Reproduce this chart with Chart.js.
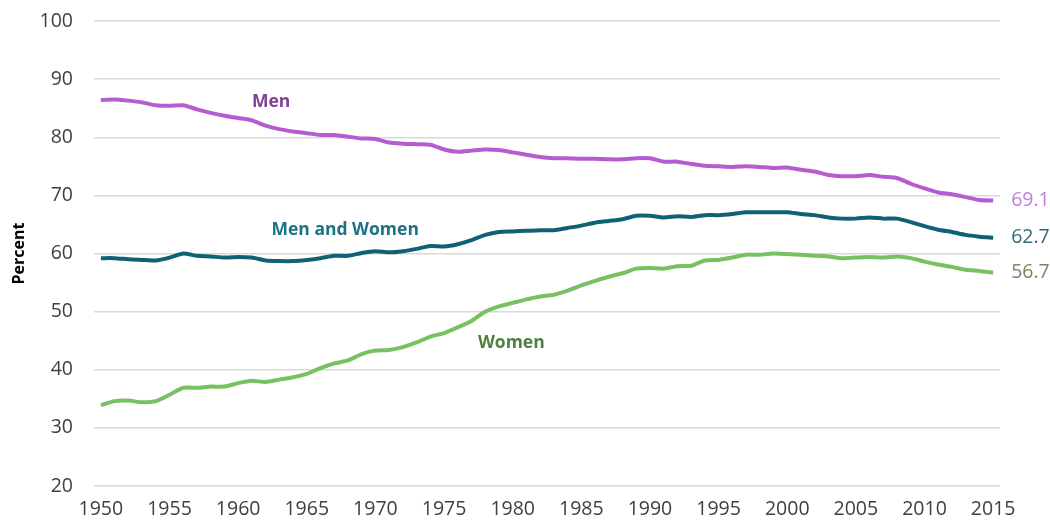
<!DOCTYPE html>
<html>
<head>
<meta charset="utf-8">
<script src="https://cdn.jsdelivr.net/npm/chart.js@4/dist/chart.umd.min.js"></script>
<style>
html,body{margin:0;padding:0;background:#fff;}
#wrap{position:relative;width:1050px;height:527px;}
</style>
</head>
<body>
<div id="wrap"><canvas id="c" width="1050" height="527"></canvas></div>
<script>
const years = [];
for (let y = 1950; y <= 2015; y++) years.push(y);

const men = [86.4,86.5,86.3,86.0,85.5,85.4,85.5,84.8,84.2,83.7,83.3,82.9,82.0,81.4,81.0,80.7,80.4,80.4,80.1,79.8,79.7,79.1,78.9,78.8,78.7,77.9,77.5,77.7,77.9,77.8,77.4,77.0,76.6,76.4,76.4,76.3,76.3,76.2,76.2,76.4,76.4,75.8,75.8,75.4,75.1,75.0,74.9,75.0,74.9,74.7,74.8,74.4,74.1,73.5,73.3,73.3,73.5,73.2,73.0,72.0,71.2,70.5,70.2,69.7,69.2,69.1];
const total = [59.2,59.2,59.0,58.9,58.8,59.3,60.0,59.6,59.5,59.3,59.4,59.3,58.8,58.7,58.7,58.9,59.2,59.6,59.6,60.1,60.4,60.2,60.4,60.8,61.3,61.2,61.6,62.3,63.2,63.7,63.8,63.9,64.0,64.0,64.4,64.8,65.3,65.6,65.9,66.5,66.5,66.2,66.4,66.3,66.6,66.6,66.8,67.1,67.1,67.1,67.1,66.8,66.6,66.2,66.0,66.0,66.2,66.0,66.0,65.4,64.7,64.1,63.7,63.2,62.9,62.7];
const women = [33.9,34.6,34.7,34.4,34.6,35.7,36.9,36.9,37.1,37.1,37.7,38.1,37.9,38.3,38.7,39.3,40.3,41.1,41.6,42.7,43.3,43.4,43.9,44.7,45.7,46.3,47.3,48.4,50.0,50.9,51.5,52.1,52.6,52.9,53.6,54.5,55.3,56.0,56.6,57.4,57.5,57.4,57.8,57.9,58.8,58.9,59.3,59.8,59.8,60.0,59.9,59.8,59.6,59.5,59.2,59.3,59.4,59.3,59.5,59.2,58.6,58.1,57.7,57.2,57.0,56.7];

const xTicks = [1950,1955,1960,1965,1970,1975,1980,1985,1990,1995,2000,2005,2010,2015];
const yTicks = [20,30,40,50,60,70,80,90,100];

const seriesNames = ['Men','Men and Women','Women'];
const seriesColors = ['#B45CD0','#0F6276','#78C163'];
const labelColors = ['#7E3F94','#1B7384','#4F8040'];
const endColors = ['#C280D6','#2F6C78','#6F8C63'];
const labelPos = [[1962.4,86.1],[1967.8,64.0],[1979.9,44.6]];

const toPts = arr => arr.map((v,i)=>({x:years[i], y:v}));

const labelPlugin = {
  id:'labels',
  afterDatasetsDraw(chart){
    const {ctx, scales:{x,y}} = chart;
    ctx.save();
    ctx.font = 'bold 17.5px "Open Sans"';
    ctx.textAlign = 'center';
    ctx.textBaseline = 'middle';
    seriesNames.forEach((n,i)=>{
      ctx.fillStyle = labelColors[i];
      ctx.fillText(n, x.getPixelForValue(labelPos[i][0]), y.getPixelForValue(labelPos[i][1]));
    });
    ctx.font = '19.5px "Open Sans"';
    ctx.textAlign = 'left';
    const ends = [men, total, women];
    ends.forEach((arr,i)=>{
      const v = arr[arr.length-1];
      ctx.fillStyle = endColors[i];
      ctx.fillText(v.toFixed(1), x.getPixelForValue(2015)+18, y.getPixelForValue(v));
    });
    ctx.restore();
  }
};

new Chart(document.getElementById('c'), {
  type:'line',
  data:{
    datasets:[
      {label:seriesNames[0], data:toPts(men), borderColor:seriesColors[0], borderWidth:4, pointRadius:0, tension:0.2},
      {label:seriesNames[1], data:toPts(total), borderColor:seriesColors[1], borderWidth:4, pointRadius:0, tension:0.2},
      {label:seriesNames[2], data:toPts(women), borderColor:seriesColors[2], borderWidth:4, pointRadius:0, tension:0.2}
    ]
  },
  options:{
    responsive:false,
    animation:false,
    layout:{padding:{left:10,right:50,top:0,bottom:0}},
    plugins:{legend:{display:false}, tooltip:{enabled:false}},
    scales:{
      x:{
        type:'linear', min:1949.5, max:2015.5,
        afterBuildTicks(ax){ ax.ticks = xTicks.map(v=>({value:v})); },
        afterFit(ax){ ax.height = 41; },
        grid:{display:false, drawTicks:false},
        border:{display:false},
        ticks:{color:'#404040', font:{family:'"Open Sans"', size:19.5}, padding:12, maxRotation:0, autoSkip:false, callback:v=>String(v)}
      },
      y:{
        min:20, max:100,
        afterBuildTicks(ax){ ax.ticks = yTicks.map(v=>({value:v})); },
        afterFit(ax){ ax.width = 84; ax.paddingTop = 21; ax.paddingBottom = 12; },
        grid:{color:'#D9D9D9', lineWidth:1.5, drawTicks:false},
        border:{display:false},
        ticks:{color:'#404040', font:{family:'"Open Sans"', size:19.5}, padding:21},
        title:{display:true, text:'Percent', color:'#000', font:{family:'"Open Sans"', size:16, weight:'bold'}, padding:{top:0,bottom:0}}
      }
    }
  },
  plugins:[labelPlugin]
});
</script>
</body>
</html>
